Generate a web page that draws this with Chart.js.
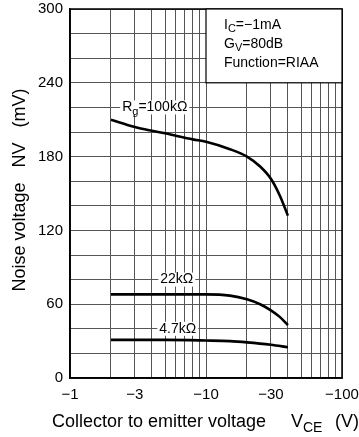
<!DOCTYPE html>
<html>
<head>
<meta charset="utf-8">
<script src="https://cdn.jsdelivr.net/npm/chart.js@4"></script>
<style>
html,body{margin:0;padding:0;background:#fff;}
#wrap{width:359px;height:437px;}
</style>
</head>
<body>
<div id="wrap"><canvas id="c" width="359" height="437"></canvas></div>
<script>
// ---- data (|VCE| in volts, noise voltage in mV) ----
const vce100k = [2, 3, 4, 5, 6, 8, 10, 15, 20, 25, 30, 35, 40];
const nv100k  = [210, 204, 201, 199, 197, 194, 192, 186, 180, 172, 162, 148, 132];
const vce22k  = [2, 5, 10, 15, 20, 25, 30, 35, 40];
const nv22k   = [68, 68, 68, 67, 64, 60, 55, 49.5, 43];
const vce4k7  = [2, 5, 10, 15, 20, 30, 40];
const nv4k7   = [31, 31, 30.5, 30, 29, 27, 25];

const xGrid = [1, 2, 3, 4, 5, 6, 7, 8, 9, 10, 20, 30, 40, 50, 60, 70, 80, 90, 100];
const xLabels = [1, 3, 10, 30, 100];
const yLabels = [0, 60, 120, 180, 240, 300];

const curveLabels = [
  {x: 4.2, y: 220, main: 'R', sub: 'g', rest: '=100kΩ'},
  {x: 6.1, y: 80, main: '22kΩ', sub: '', rest: ''},
  {x: 6.2, y: 40, main: '4.7kΩ', sub: '', rest: ''}
];
const noteLines = [['I', 'C', '=−1mA'], ['G', 'V', '=80dB'], ['Function=RIAA', '', '']];

const FONT = '"Liberation Sans", Arial, sans-serif';

function pts(xs, ys) { return xs.map((x, i) => ({x: x, y: ys[i]})); }

function drawSubText(ctx, x, y, main, sub, rest, size) {
  ctx.font = size + 'px ' + FONT;
  ctx.fillText(main, x, y);
  let w = ctx.measureText(main).width;
  if (sub) {
    ctx.font = Math.round(size * 0.8) + 'px ' + FONT;
    ctx.fillText(sub, x + w, y + size * 0.3);
    w += ctx.measureText(sub).width;
  }
  if (rest) {
    ctx.font = size + 'px ' + FONT;
    ctx.fillText(rest, x + w, y);
    w += ctx.measureText(rest).width;
  }
  return w;
}
function measureSub(ctx, main, sub, rest, size) {
  ctx.font = size + 'px ' + FONT;
  let w = ctx.measureText(main).width + (rest ? ctx.measureText(rest).width : 0);
  if (sub) { ctx.font = Math.round(size * 0.8) + 'px ' + FONT; w += ctx.measureText(sub).width; }
  return w;
}

const decor = {
  id: 'decor',
  afterDatasetsDraw(chart) {
    const ctx = chart.ctx, xs = chart.scales.x, ys = chart.scales.y, a = chart.chartArea;
    ctx.save();
    // frame
    ctx.strokeStyle = '#000'; ctx.lineWidth = 1.5;
    ctx.strokeRect(a.left, a.top, a.right - a.left, a.bottom - a.top);
    // note box
    const bx = xs.getPixelForValue(10), by = ys.getPixelForValue(300);
    const bx2 = xs.getPixelForValue(100), by2 = ys.getPixelForValue(240);
    ctx.fillStyle = '#fff';
    ctx.fillRect(bx, by, bx2 - bx, by2 - by);
    ctx.strokeStyle = '#000'; ctx.lineWidth = 1.2;
    ctx.strokeRect(bx, by, bx2 - bx, by2 - by);
    ctx.fillStyle = '#000'; ctx.textBaseline = 'middle'; ctx.textAlign = 'left';
    noteLines.forEach((l, i) => {
      drawSubText(ctx, bx + 18, by + 16 + i * 19, l[0], l[1], l[2], 14);
    });
    // curve labels
    curveLabels.forEach(l => {
      const cx = xs.getPixelForValue(l.x), cy = ys.getPixelForValue(l.y);
      const w = measureSub(ctx, l.main, l.sub, l.rest, 14);
      ctx.fillStyle = '#fff';
      ctx.fillRect(cx - w / 2 - 2, cy - 7, w + 4, 14);
      ctx.fillStyle = '#000';
      drawSubText(ctx, cx - w / 2, cy, l.main, l.sub, l.rest, 14);
    });
    ctx.restore();
  },
  afterDraw(chart) {
    const ctx = chart.ctx;
    ctx.save();
    ctx.fillStyle = '#000'; ctx.textBaseline = 'alphabetic'; ctx.textAlign = 'left';
    // x title
    ctx.font = '18px ' + FONT;
    ctx.fillText('Collector to emitter voltage', 52, 427);
    ctx.fillText('V', 291, 427);
    ctx.font = '14px ' + FONT;
    ctx.fillText('CE', 303, 432);
    ctx.font = '18px ' + FONT;
    ctx.fillText('(V)', 335, 427);
    // y title
    ctx.translate(25, 190);
    ctx.rotate(-Math.PI / 2);
    ctx.textAlign = 'center';
    ctx.fillText('Noise voltage   NV   (mV)', 0, 0);
    ctx.restore();
  }
};

const lineStyle = {borderColor: '#000', borderWidth: 2.6, pointRadius: 0, fill: false, cubicInterpolationMode: 'monotone'};

new Chart(document.getElementById('c'), {
  type: 'line',
  data: {
    datasets: [
      Object.assign({label: '100k', data: pts(vce100k, nv100k)}, lineStyle),
      Object.assign({label: '22k', data: pts(vce22k, nv22k)}, lineStyle),
      Object.assign({label: '4.7k', data: pts(vce4k7, nv4k7)}, lineStyle)
    ]
  },
  options: {
    responsive: false,
    devicePixelRatio: 1,
    animation: false,
    layout: {padding: {left: 0, top: 9, right: 17, bottom: 0}},
    plugins: {legend: {display: false}, tooltip: {enabled: false}},
    scales: {
      x: {
        type: 'logarithmic', min: 1, max: 100,
        afterBuildTicks(s) { s.ticks = xGrid.map(v => ({value: v})); },
        afterFit(s) { s.height = 59; s.paddingLeft = 0; s.paddingRight = 0; },
        grid: {color: '#555', lineWidth: 1, drawTicks: false},
        border: {color: '#000', width: 1.5},
        ticks: {
          autoSkip: false, maxRotation: 0, padding: 8, color: '#000',
          font: {size: 15, family: FONT},
          callback: v => xLabels.includes(v) ? '−' + v : ''
        }
      },
      y: {
        min: 0, max: 300,
        afterBuildTicks(s) { const t = []; for (let v = 0; v <= 300; v += 20) t.push({value: v}); s.ticks = t; },
        afterFit(s) { s.width = 70; s.paddingTop = 0; s.paddingBottom = 0; },
        grid: {color: '#555', lineWidth: 1, drawTicks: false},
        border: {color: '#000', width: 1.5},
        ticks: {
          padding: 7, color: '#000',
          font: {size: 15, family: FONT},
          callback: v => yLabels.includes(v) ? String(v) : ''
        }
      }
    }
  },
  plugins: [decor]
});
</script>
</body>
</html>
